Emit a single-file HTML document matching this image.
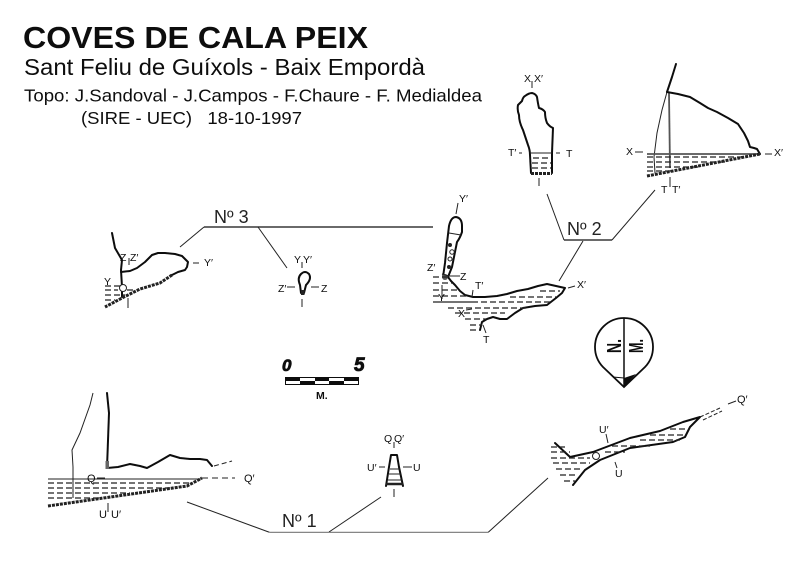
<!DOCTYPE html>
<html><head><meta charset="utf-8"><style>
html,body{margin:0;padding:0;background:#fff}
svg{display:block}
text{font-family:"Liberation Sans",sans-serif;fill:#111}
.l{font-size:10.500px}
.n{font-size:18px;fill:#222}
.o{fill:none;stroke:#111;stroke-width:2;stroke-linejoin:round;stroke-linecap:round}
.t{fill:none;stroke:#222;stroke-width:1}
.g{fill:none;stroke:#555;stroke-width:1.800}
.d{fill:none;stroke:#222;stroke-width:1.200;stroke-dasharray:6 3}
.b{fill:none;stroke:#222;stroke-width:3;stroke-dasharray:3 1}
</style></head><body>
<svg width="799" height="569" viewBox="0 0 799 569" xmlns="http://www.w3.org/2000/svg">
<defs><filter id="s" x="0" y="0" width="100%" height="100%"><feGaussianBlur stdDeviation="0.35"/></filter></defs>
<rect width="799" height="569" fill="#fff"/>
<g filter="url(#s)">
<text x="23" y="48" font-size="31" font-weight="bold" textLength="345" lengthAdjust="spacingAndGlyphs">COVES DE CALA PEIX</text>
<text x="24" y="75" font-size="23" textLength="401" lengthAdjust="spacingAndGlyphs">Sant Feliu de Guíxols - Baix Empordà</text>
<text x="24" y="101.500" font-size="17.400" textLength="458" lengthAdjust="spacingAndGlyphs">Topo: J.Sandoval - J.Campos - F.Chaure - F. Medialdea</text>
<text x="81" y="124" font-size="17.400" textLength="221" lengthAdjust="spacingAndGlyphs" xml:space="preserve">(SIRE - UEC)   18-10-1997</text>

<!-- Nº 2 -->
<path class="g" d="M564 240H612"/>
<path class="t" d="M547 194L564 240M612 240L655 190M583 241L559 281"/>
<text class="n" x="567" y="235">Nº 2</text>
<!-- XX' section -->
<path class="o" d="M530 155Q530 150 528 145L523 130Q519 122 519 115Q517 110 518 105Q520 103 522 101Q523 97 525 96Q529 93 532 93Q536 94 537 97Q538 104 539 108Q543 109 545 112Q545 118 547 123Q550 127 553 128L552 153L552 173M530 155L531 173"/>
<path class="t" d="M530 153H552"/>
<path class="d" d="M533 158H550M532 163H551M532 168H551"/>
<path class="b" d="M531 173.500H552" stroke-width="2.500"/>
<text class="l" x="524" y="82">X</text><text class="l" x="534" y="82">X′</text>
<path class="t" d="M532 81V88M539 178V186M519 153H522M556 153H560"/>
<text class="l" x="508" y="156">T′</text><text class="l" x="566" y="157">T</text>
<!-- right section -->
<path class="o" d="M676 64L672 77L667 92" stroke-width="1.200"/>
<path class="t" d="M667 92L662 110L657 133L654 157L655 173"/>
<path class="g" d="M669 93L670 168"/>
<path class="o" d="M667 92L678 94L690 97L700 103L708 108L717 112L728 118L738 124L744 133L748 141L750 147L754 148L757 149L760 154" stroke-width="1.800"/>
<path class="g" d="M647 154H760"/>
<path class="d" d="M647 157H745M647 162H725M647 167H700M647 171H672"/>
<path class="b" d="M647 176L760 154"/>
<text class="l" x="626" y="155">X</text><text class="l" x="774" y="156">X′</text>
<path class="t" d="M635 152H643M765 154H772M670 177V187"/>
<text class="l" x="661" y="193">T</text><text class="l" x="672" y="193">T′</text>

<!-- Nº 3 -->
<path class="g" d="M204 227H433"/>
<path class="t" d="M180 247L204 227M258 227L287 268"/>
<text class="n" x="214" y="223">Nº 3</text>
<path class="o" d="M112 233L115 248L122 260L121 270L122 287L122 297" stroke-width="1.100"/>
<path class="o" d="M121 272L130 271L137 268L145 262L152 255L158 253L165 253L175 254L182 256L188 262L187 267L185 270L178 272L172 275" stroke-width="1.800"/>
<path class="b" d="M172 275L160 283L140 289L122 298L105 307" stroke-width="2.500"/>
<circle cx="123" cy="288" r="3.500" fill="#fff" stroke="#222"/>
<path class="d" d="M105 286H122M105 290H118M127 290H135M105 295H125M105 300H115"/>
<text class="l" x="120" y="261">Z</text><text class="l" x="130" y="261">Z′</text>
<text class="l" x="104" y="285">Y</text><text class="l" x="204" y="266">Y′</text>
<path class="t" d="M129 258V265M193 263H199M128 298V308"/>
<!-- YY' -->
<path class="o" d="M301 293L300 285Q297 278 301 274Q305 270 309 274Q312 279 306 285L304 293Z" stroke-width="1.300"/>
<rect x="301" y="290" width="3.500" height="5" fill="#222"/>
<text class="l" x="294" y="263">Y</text><text class="l" x="303" y="263">Y′</text>
<text class="l" x="278" y="292">Z′</text><text class="l" x="321" y="292">Z</text>
<path class="t" d="M302 262V268M287 287H295M311 287H319M302 299V307"/>

<!-- plan -->
<path class="o" d="M443 277L445 263L447 243L449 226Q451 217 456 217Q462 218 462 226L462 232Q460 238 457 242L452 267L448 277L451 281L455 285L460 291L465 295L473 297L485 297L497 296L507 294L517 291L528 289L538 286L547 284L556 286L565 288L562 293L556 298L547 305L535 306L523 308L515 313L507 319L500 319L493 317L487 319L482 322L480 330" stroke-width="1.800"/>
<path class="t" d="M449 233L461 235"/>
<circle cx="450" cy="245" r="2" fill="#222"/><circle cx="452" cy="252" r="2.200" fill="#fff" stroke="#222"/><circle cx="450" cy="259" r="2" fill="#fff" stroke="#222"/><circle cx="449" cy="267" r="2" fill="#222"/><circle cx="445" cy="277" r="3" fill="#555"/>
<path class="d" d="M433 277H448M433 283H452M433 290H460M433 296H466M433 302H478M540 291H560M510 297H556M436 302H552M448 308H526M455 313H505M465 319H486M470 325H482M470 330H480"/>
<text class="l" x="459" y="202">Y′</text><text class="l" x="427" y="271">Z′</text><text class="l" x="460" y="280">Z</text>
<text class="l" x="475" y="289">T′</text><text class="l" x="577" y="288">X′</text><text class="l" x="458" y="317">X</text><text class="l" x="483" y="343">T</text><text class="l" x="438" y="301">Y</text>
<path class="t" d="M458 203L456 214M442 274L449 276L460 276M473 290L472 297M568 288L575 286M466 310L472 309M483 325L486 333M442 285V299"/>

<!-- scale -->
<rect x="285.500" y="377.500" width="73" height="7" fill="#fff" stroke="#111"/>
<path d="M285 377h15v4h-15zM300 381h15v4h-15zM315 377h14v4h-14zM329 381h15v4h-15zM344 377h15v4h-15z" fill="#111"/>
<text x="282" y="371" font-size="17" font-weight="bold" font-style="italic" stroke="#111" stroke-width="0.800">0</text>
<text x="354" y="371" font-size="19" font-weight="bold" font-style="italic" stroke="#111" stroke-width="0.800">5</text>
<text x="316" y="399" font-size="10.500" font-weight="bold">M.</text>

<!-- north -->
<path d="M603 367A29 29 0 1 1 645 367L624 387Z" fill="#fff" stroke="#111" stroke-width="1.800"/>
<path d="M624 318V387" stroke="#111" stroke-width="1.500"/>
<path d="M613 377L624 378" stroke="#111"/>
<path d="M624 378L636 374L624 387Z" fill="#111"/>
<text transform="translate(621,353) rotate(-90)" font-size="20" font-weight="bold" textLength="14" lengthAdjust="spacingAndGlyphs">N.</text>
<text transform="translate(643,353) rotate(-90)" font-size="20" font-weight="bold" textLength="14" lengthAdjust="spacingAndGlyphs">M.</text>

<!-- lower left -->
<path class="t" d="M93 393L90 405L80 433L72 450L73 467L73 498"/>
<path class="o" d="M107 393L109 413L107 468L118 467L130 464L140 466L147 468L158 462L170 455L180 458L190 459L200 459L207 460L212 466" stroke-width="1.600"/>
<rect x="105.500" y="461" width="3.500" height="8" fill="#666"/>
<path class="t" d="M214 466L232 461" stroke-dasharray="5 3"/>
<path d="M48 479H202" stroke="#222"/>
<path class="d" d="M48 483H190M48 488H170M48 493H130M48 498H100"/>
<path class="b" d="M48 506L187 486L202 478" stroke-width="2.500"/>
<path class="t" d="M202 478H235" stroke-dasharray="6 4"/>
<text x="87" y="482" font-size="11">Q</text><text x="244" y="482" font-size="11">Q′</text>
<path class="t" d="M97 478H105M108 503V512"/>
<text x="99" y="518" font-size="11">U</text><text x="111" y="518" font-size="11">U′</text>

<!-- Nº 1 -->
<path d="M270 532.500H488" stroke="#111" stroke-width="1.300"/>
<path class="t" d="M187 502L270 532.500M488 532.500L548 478M329 532L381 497"/>
<text class="n" x="282" y="527">Nº 1</text>
<!-- QQ' -->
<path class="o" d="M386 486L389 467L391 455L397 455L399 467L403 486" stroke-width="1.500"/>
<path class="t" d="M390 469H400M389 474H401M388 480H402"/>
<path d="M386 484H403" stroke="#222" stroke-width="2.500"/>
<text class="l" x="384" y="442">Q</text><text class="l" x="394" y="442">Q′</text>
<text class="l" x="367" y="471">U′</text><text class="l" x="413" y="471">U</text>
<path class="t" d="M394 442V448M379 467H385M403 467H412M394 489V497"/>

<!-- lower right -->
<path class="o" d="M555 443L570 457L593 452L630 438L660 431L683 422L700 417L690 427L685 437L673 442L630 448L600 460L585 470L573 485" stroke-width="1.500"/>
<path class="t" d="M700 417L720 408M703 420L722 411" stroke-dasharray="4 2"/>
<circle cx="596" cy="456" r="3.500" fill="#fff" stroke="#222"/>
<path class="d" d="M551 447H565M551 452H570M551 458H590M553 463H590M556 469H582M560 475H578M564 481H575M605 452H625M612 446H650M640 440H680M650 435H685M670 429H688"/>
<text x="737" y="403" font-size="11">Q′</text><text class="l" x="599" y="433">U′</text><text class="l" x="615" y="477">U</text>
<path class="t" d="M728 404L736 401M606 434L608 443M615 462L617 468"/>
</g>
</svg>
</body></html>
